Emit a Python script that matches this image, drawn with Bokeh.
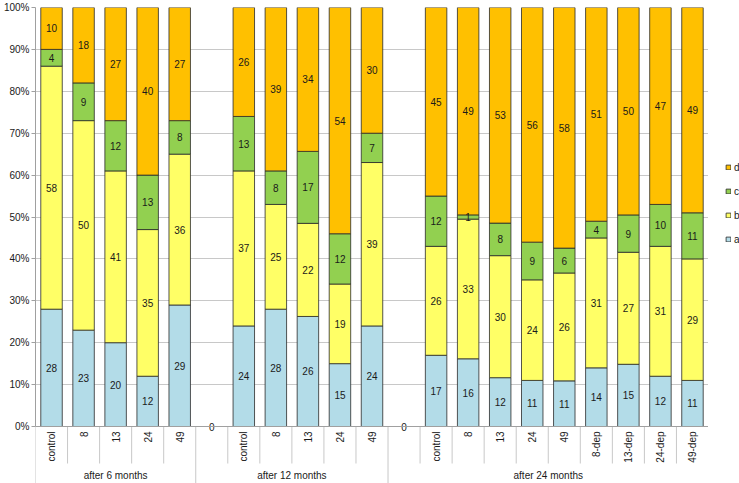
import math
from bokeh.plotting import figure
from bokeh.layouts import row
from bokeh.models import (ColumnDataSource, FactorRange, Range1d, FixedTicker,
                          NumeralTickFormatter, Legend, LegendItem, Span)
from bokeh.core.properties import value
from bokeh.embed import file_html
from bokeh.resources import INLINE

# ---------------- data ----------------
groups = ["after 6 months", "after 12 months", "after 24 months"]

cats_6m = ["control", "8", "13", "24", "49"]
a_6m = [28, 23, 20, 12, 29]
b_6m = [58, 50, 41, 35, 36]
c_6m = [4, 9, 12, 13, 8]
d_6m = [10, 18, 27, 40, 27]

cats_12m = ["control", "8", "13", "24", "49"]
a_12m = [24, 28, 26, 15, 24]
b_12m = [37, 25, 22, 19, 39]
c_12m = [13, 8, 17, 12, 7]
d_12m = [26, 39, 34, 54, 30]

cats_24m = ["control", "8", "13", "24", "49", "8-dep", "13-dep", "24-dep", "49-dep"]
a_24m = [17, 16, 12, 11, 11, 14, 15, 12, 11]
b_24m = [26, 33, 30, 24, 26, 31, 27, 31, 29]
c_24m = [12, 1, 8, 9, 6, 4, 9, 10, 11]
d_24m = [45, 49, 53, 56, 58, 51, 50, 47, 49]

series = ["a", "b", "c", "d"]
colors = {"a": "#B3DCE8", "b": "#FFFF66", "c": "#92D050", "d": "#FFC000"}
# groups 2 and 3 start with an empty (zero) column
gap_before = [False, True, True]
GAP = "gap"

# ---------------- build table ----------------
group_data = [
    (cats_6m, a_6m, b_6m, c_6m, d_6m),
    (cats_12m, a_12m, b_12m, c_12m, d_12m),
    (cats_24m, a_24m, b_24m, c_24m, d_24m),
]

factors = []
cols = {s: [] for s in series}
lab_x, lab_y, lab_t = [], [], []
tick_x, tick_t = [], []
gap_x = []
group_sizes = []

for g, gap, (cats, av, bv, cv, dv) in zip(groups, gap_before, group_data):
    n = 0
    if gap:
        f = (g, GAP)
        factors.append(f)
        for s in series:
            cols[s].append(0.0)
        gap_x.append(f)
        n += 1
    for i, cname in enumerate(cats):
        f = (g, cname)
        factors.append(f)
        vals = {"a": av[i], "b": bv[i], "c": cv[i], "d": dv[i]}
        tot = float(sum(vals.values()))
        base = 0.0
        for s in series:
            frac = vals[s] / tot
            cols[s].append(frac)
            lab_x.append(f)
            lab_y.append(base + frac / 2)
            lab_t.append(str(vals[s]))
            base += frac
        tick_x.append(f)
        tick_t.append(cname)
        n += 1
    group_sizes.append(n)

source = ColumnDataSource(dict(x=factors, **cols))

# ---------------- layout constants (pixels) ----------------
W, H = 739, 483
LEG_W = 31
TOP, LEFT = 7, 32
PX_PER_UNIT = 419.0
FRAME_H = float(H - TOP)
ROW1 = 37.0
Y_BOTTOM = 1.0 - FRAME_H / PX_PER_UNIT
ROW1_Y = -ROW1 / PX_PER_UNIT
GROUP_Y = -(ROW1 + (FRAME_H - PX_PER_UNIT - ROW1) / 2.0 + 2.0) / PX_PER_UNIT

FONT = value("Liberation Sans")
TXT = "#1a1a1a"
GRID = "#C8C8C8"
AXIS = "#A0A0A0"
EDGE = "#2a2a2a"

p = figure(width=W - LEG_W, height=H, output_backend="svg", toolbar_location=None,
           x_range=FactorRange(*factors, factor_padding=0, group_padding=0,
                               range_padding=0),
           y_range=Range1d(Y_BOTTOM, 1.0),
           x_axis_location=None,
           min_border_left=LEFT, min_border_right=0, min_border_top=TOP,
           min_border_bottom=0)
p.outline_line_color = None
p.xgrid.visible = False
p.ygrid.grid_line_color = GRID
p.ygrid.bounds = (0, 1)

yax = p.yaxis[0]
yax.ticker = FixedTicker(ticks=[i / 10 for i in range(11)])
yax.formatter = NumeralTickFormatter(format="0%")
yax.bounds = (0, 1)
yax.axis_line_color = AXIS
yax.major_tick_line_color = AXIS
yax.major_tick_out = 4
yax.major_tick_in = 0
yax.minor_tick_line_color = None
yax.major_label_standoff = 2
yax.major_label_text_font = "Liberation Sans"
yax.major_label_text_font_size = "10px"
yax.major_label_text_color = TXT

renderers = p.vbar_stack(series, x="x", width=0.67, source=source,
                         fill_color=[colors[s] for s in series],
                         line_color=EDGE, line_width=0.8)

p.add_layout(Span(location=0, dimension="width", line_color=AXIS, line_width=1))

# data labels
p.text(x=lab_x, y=lab_y, text=lab_t, text_font=FONT, text_font_size="10px",
       text_color=TXT, text_align="center", text_baseline="middle")
p.text(x=gap_x, y=[0] * len(gap_x), text=["0"] * len(gap_x), text_font=FONT,
       text_font_size="10px", text_color=TXT, text_align="center",
       text_baseline="middle")

# category labels (rotated)
p.text(x=tick_x, y=[0] * len(tick_x), text=tick_t, angle=math.pi / 2,
       text_font=FONT, text_font_size="10px", text_color=TXT,
       text_align="right", text_baseline="middle", y_offset=5)

# group labels
p.text(x=groups, y=[GROUP_Y] * len(groups), text=groups, text_font=FONT,
       text_font_size="10px", text_color=TXT, text_align="center",
       text_baseline="middle")

# table dividers (synthetic coordinates of the factor range)
cat_div, grp_div = [], [0]
pos = 0
for n in group_sizes:
    for k in range(1, n):
        cat_div.append(pos + k)
    pos += n
    grp_div.append(pos)
p.segment(x0=cat_div, y0=[0] * len(cat_div), x1=cat_div,
          y1=[ROW1_Y] * len(cat_div), line_color=GRID, line_width=1)
p.segment(x0=grp_div, y0=[0] * len(grp_div), x1=grp_div,
          y1=[Y_BOTTOM] * len(grp_div), line_color=GRID, line_width=1)

# ---------------- legend in a narrow side figure ----------------
lf = figure(width=LEG_W, height=H, output_backend="svg", toolbar_location=None,
            x_range=Range1d(0, 1), y_range=Range1d(0, 1),
            x_axis_location=None, y_axis_location=None,
            min_border=0, outline_line_color=None)
lf.xgrid.visible = False
lf.ygrid.visible = False
items = []
for s in reversed(series):
    # proxy glyph outside the visible range, used only for the legend swatch
    r = lf.vbar(x=[-10], top=[-10], width=0.5, fill_color=colors[s],
                line_color=EDGE, line_width=0.8)
    items.append(LegendItem(label=s, renderers=[r]))
legend = Legend(items=items, location=(17, 238), padding=0, margin=0, spacing=12,
                glyph_width=6, glyph_height=6, label_standoff=3,
                label_text_font="Liberation Sans", label_text_font_size="10px",
                label_text_color=TXT, label_height=12,
                border_line_color=None, background_fill_alpha=0)
lf.add_layout(legend)

layout = row(p, lf, spacing=0)
open("out.html", "w").write(file_html(layout, INLINE))
